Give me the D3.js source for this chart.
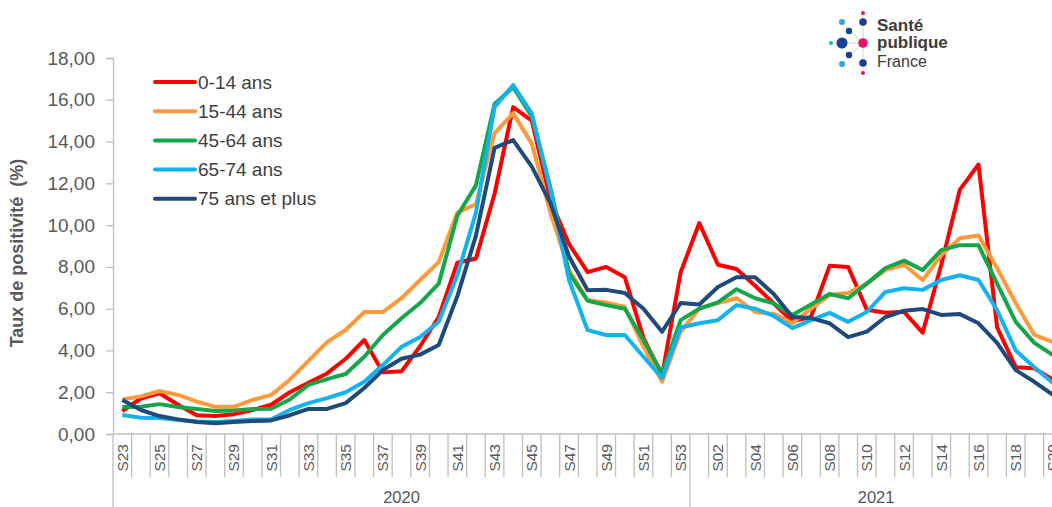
<!DOCTYPE html>
<html><head><meta charset="utf-8">
<script src="https://cdn.jsdelivr.net/npm/d3@7"></script>
<style>body{margin:0;background:#fff;}svg{display:block;font-family:Arial,"Liberation Sans",sans-serif;}</style>
</head><body><svg id="c" width="1052" height="507"></svg>
<script>
const weeks2020 = ["S23","S24","S25","S26","S27","S28","S29","S30","S31","S32","S33","S34","S35","S36","S37","S38","S39","S40","S41","S42","S43","S44","S45","S46","S47","S48","S49","S50","S51","S52","S53"];
const weeks2021 = ["S01","S02","S03","S04","S05","S06","S07","S08","S09","S10","S11","S12","S13","S14","S15","S16","S17","S18","S19","S20"];
const years = ["2020","2021"];
const seriesNames = ["0-14 ans","15-44 ans","45-64 ans","65-74 ans","75 ans et plus"];
const colors = ["#FF0000","#FF9A3C","#14A64A","#14B2EE","#1F4A7C"];
const yTicks = [0,2,4,6,8,10,12,14,16,18];

const v0_14 = [1.1,1.7,1.95,1.4,0.9,0.86,0.95,1.15,1.4,2.0,2.45,2.9,3.6,4.5,2.95,3.0,4.2,5.6,8.2,8.4,11.5,15.65,15.0,11.2,9.1,7.75,8.0,7.5,4.6,2.8,7.75,10.1,8.1,7.9,7.1,6.25,5.4,5.6,8.05,8.0,5.95,5.8,5.85,4.85,8.1,11.7,12.9,5.1,3.2,3.15,2.6];
const v15_44 = [1.65,1.8,2.06,1.87,1.55,1.3,1.3,1.63,1.87,2.6,3.5,4.4,4.98,5.84,5.84,6.5,7.37,8.23,10.6,11.0,14.4,15.36,13.9,10.6,7.85,6.4,6.3,6.08,4.17,2.5,4.9,6.0,6.27,6.5,5.84,5.75,5.3,6.0,6.65,6.75,7.2,7.85,8.1,7.37,8.56,9.37,9.5,7.94,6.27,4.74,4.4];
const v45_64 = [1.29,1.3,1.43,1.29,1.2,1.1,1.12,1.2,1.21,1.65,2.35,2.63,2.87,3.7,4.74,5.54,6.27,7.2,10.45,11.9,15.8,16.6,15.2,11.8,7.7,6.38,6.17,6.0,4.5,2.9,5.45,6.0,6.3,6.93,6.5,6.25,5.7,6.2,6.7,6.5,7.2,7.94,8.3,7.85,8.8,9.04,9.04,7.2,5.37,4.36,3.78];
const v65_74 = [0.91,0.78,0.76,0.67,0.6,0.57,0.62,0.7,0.7,1.15,1.48,1.72,2.0,2.5,3.3,4.17,4.64,5.37,7.6,10.6,15.65,16.7,15.35,11.7,7.37,4.97,4.74,4.74,3.7,2.68,5.1,5.3,5.45,6.17,6.0,5.65,5.07,5.45,5.8,5.37,5.84,6.8,6.98,6.9,7.37,7.6,7.37,5.93,4.0,3.2,2.44];
const v75 = [1.63,1.15,0.86,0.7,0.57,0.52,0.57,0.62,0.65,0.9,1.2,1.2,1.48,2.2,3.06,3.6,3.8,4.26,6.6,9.5,13.7,14.07,12.8,11.05,8.5,6.88,6.9,6.75,6.0,4.9,6.27,6.2,7.04,7.5,7.5,6.7,5.6,5.55,5.3,4.64,4.9,5.6,5.9,5.98,5.7,5.74,5.3,4.36,3.06,2.5,1.87];
const seriesValues = [v0_14,v15_44,v45_64,v65_74,v75];

const weeks = weeks2020.concat(weeks2021);
const svg = d3.select("#c");
const gray = "#595959", axisCol = "#BFBFBF";
const mLeft = 113, mTop = 58, mBottom = 434;
const step = (690 - mLeft) / weeks2020.length;
const x = d3.scaleBand().domain(weeks).range([mLeft, mLeft + step * weeks.length]).padding(0);
const y = d3.scaleLinear().domain([0,18]).range([mBottom, mTop]);
const fmt = v => d3.format(".2f")(v).replace(".", ",");

// y axis
const yAxis = svg.append("g").attr("transform", `translate(${mLeft},0)`)
  .call(d3.axisLeft(y).tickValues(yTicks).tickSize(7).tickPadding(11).tickFormat(fmt));
yAxis.select(".domain").attr("stroke", axisCol).attr("stroke-width", 1.3);
yAxis.selectAll(".tick line").attr("stroke", axisCol).attr("stroke-width", 1.3);
yAxis.selectAll("text").attr("fill", gray).attr("font-size", 19).attr("font-family", "Arial, 'Liberation Sans', sans-serif");

svg.append("text").attr("transform", `translate(23,${253}) rotate(-90)`)
  .attr("text-anchor", "middle").attr("font-weight", "bold").attr("font-size", 18).attr("fill", gray)
  .attr("xml:space", "preserve").style("white-space", "pre")
  .text("Taux de positivité  (%)");

// x axis
const xg = svg.append("g");
xg.append("line").attr("x1", mLeft).attr("x2", x.range()[1]).attr("y1", mBottom).attr("y2", mBottom)
  .attr("stroke", axisCol).attr("stroke-width", 1.3);
weeks.forEach((w, i) => {
  const bx = x(w);
  const long = (i === 0 || i === weeks2020.length);
  xg.append("line").attr("x1", bx).attr("x2", bx).attr("y1", mBottom).attr("y2", long ? 507 : 477)
    .attr("stroke", axisCol).attr("stroke-width", 1.3);
  if (i % 2 === 0) {
    const cx = bx + x.bandwidth()/2;
    xg.append("text").attr("transform", `translate(${cx+5.5},444) rotate(-90)`)
      .attr("text-anchor", "end").attr("font-size", 15.5).attr("fill", gray).text(w);
  }
});
const xEnd = x.range()[1];
xg.append("line").attr("x1", xEnd).attr("x2", xEnd).attr("y1", mBottom).attr("y2", 507).attr("stroke", axisCol).attr("stroke-width", 1.3);
const yearRanges = [[mLeft, x(weeks2021[0])],[x(weeks2021[0]), xEnd]];
years.forEach((yr, i) => {
  svg.append("text").attr("x", (yearRanges[i][0]+yearRanges[i][1])/2).attr("y", 503)
    .attr("text-anchor", "middle").attr("font-size", 16.5).attr("fill", gray).text(yr);
});

// lines
const line = d3.line().x((d,i) => x(weeks[i]) + x.bandwidth()/2).y(d => y(d));
seriesValues.forEach((vals, k) => {
  svg.append("path").datum(vals).attr("d", line).attr("fill", "none")
    .attr("stroke", colors[k]).attr("stroke-width", 4).attr("stroke-linejoin", "round");
});

// legend
seriesNames.forEach((n, k) => {
  const yy = 82 + 29.2 * k;
  svg.append("line").attr("x1", 155).attr("x2", 195).attr("y1", yy).attr("y2", yy)
    .attr("stroke", colors[k]).attr("stroke-width", 4).attr("stroke-linecap", "round");
  svg.append("text").attr("x", 198).attr("y", yy + 6.5).attr("font-size", 19).attr("fill", "#404040").text(n);
});

// logo
const logo = svg.append("g");
const cxp = 863, cyp = 43;
const dots = [
  [863,13,2,"#E5175E"],[863,22,3.8,"#1B3F93"],[842,22,3,"#29ABE2"],[849,31,3.2,"#1B3F93"],
  [831,43,2,"#29ABE2"],[842,43,5.5,"#1B3F93"],[863,43,4.8,"#E5175E"],[849,55,3.2,"#1B3F93"],
  [842,64,3,"#29ABE2"],[863,63,3.8,"#1B3F93"],[863,73,2,"#E5175E"]
];
dots.forEach(d => {
  if (!(d[0]===cxp && d[1]===cyp)) logo.append("line").attr("x1", cxp).attr("y1", cyp).attr("x2", d[0]).attr("y2", d[1])
    .attr("stroke", "#D9D9D9").attr("stroke-width", 0.8);
});
dots.forEach(d => logo.append("circle").attr("cx", d[0]).attr("cy", d[1]).attr("r", d[2]).attr("fill", d[3]));
logo.append("text").attr("x", 877).attr("y", 31).attr("font-size", 17).attr("font-weight", "bold").attr("fill", "#3C3C3C").text("Santé");
logo.append("text").attr("x", 877).attr("y", 48).attr("font-size", 17).attr("font-weight", "bold").attr("fill", "#3C3C3C").text("publique");
logo.append("text").attr("x", 877).attr("y", 67).attr("font-size", 16).attr("fill", "#3C3C3C").text("France");
</script></body></html>
